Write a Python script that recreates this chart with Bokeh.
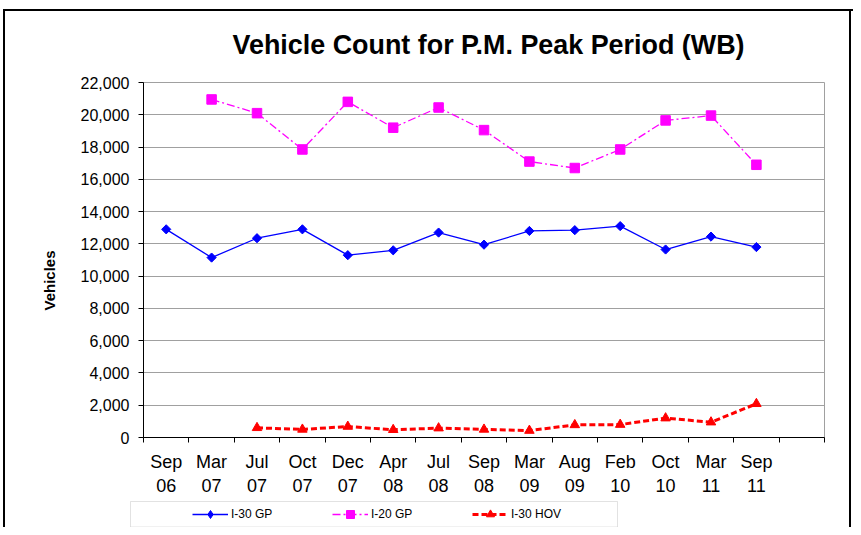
import math
import numpy as np
from bokeh.plotting import figure
from bokeh.layouts import column
from bokeh.models import (FixedTicker, NumeralTickFormatter, Legend, LegendItem,
                          Title, Range1d, BoxAnnotation)
from bokeh.embed import file_html
from bokeh.resources import INLINE

nan = float("nan")

# ---- data -------------------------------------------------------------
categories = ["Sep\n06", "Mar\n07", "Jul\n07", "Oct\n07", "Dec\n07", "Apr\n08", "Jul\n08",
              "Sep\n08", "Mar\n09", "Aug\n09", "Feb\n10", "Oct\n10", "Mar\n11", "Sep\n11"]
i30_gp = [12900, 11150, 12350, 12900, 11300, 11600, 12700, 11950, 12800, 12850, 13100, 11650, 12450, 11800]
i20_gp = [nan, 20950, 20100, 17850, 20800, 19200, 20450, 19050, 17100, 16700, 17850, 19650, 19950, 16900]
i30_hov = [nan, nan, 600, 500, 680, 480, 580, 500, 430, 780, 800, 1200, 950, 2090]
y_ticks = list(range(0, 22001, 2000))
series_names = ["I-30 GP", "I-20 GP", "I-30 HOV"]
title_text = "Vehicle Count for P.M. Peak Period (WB)"
y_title = "Vehicles"

n_slots = len(categories) + 1  # one empty slot at the right, as in the original
xs = np.arange(len(categories)) + 0.5

FONT = "Liberation Sans"
W = 853

styles_blue = dict(line_color="#0000ff", line_width=1.3)
styles_mag = dict(line_color="#ff00ff", line_width=1.3, line_dash="8 3 2 3")
styles_red = dict(line_color="#ff0000", line_width=3, line_dash="6 3")
mk_blue = dict(marker="square", angle=math.pi / 4, size=6.5, fill_color="#0000ff", line_color="#0000ff")
mk_blue_legend = dict(marker="diamond", size=10, fill_color="#0000ff", line_color="#0000ff")
mk_mag = dict(marker="square", size=9.5, fill_color="#ff00ff", line_color="#ff00ff")
mk_red = dict(marker="triangle", size=9.5, fill_color="#ff0000", line_color="#ff0000")

# ======================= main chart =======================================
p = figure(frame_width=681, frame_height=355,
           min_border_left=143, min_border_right=29, min_border_top=82, min_border_bottom=63,
           x_range=Range1d(0, n_slots), y_range=Range1d(0, y_ticks[-1]),
           output_backend="svg", toolbar_location=None, tools="")
p.frame_align = False
p.background_fill_color = None
p.border_fill_color = None
p.outline_line_color = "#a0a0a0"
p.outline_line_width = 1
# outer chart frame: left, top and right edges
p.styles = {
    "background-color": "white",
    "background-image": "linear-gradient(#000,#000), linear-gradient(#000,#000), linear-gradient(#000,#000)",
    "background-size": "2px 100%, 100% 2px, 2px 100%",
    "background-position": "3px 9px, 3px 9px, 849px 9px",
    "background-repeat": "no-repeat",
}

p.title = Title(text=title_text, align="left", offset=89, text_font=FONT,
                text_font_size="26.9px", text_font_style="bold", text_color="black",
                standoff=46)

xa = p.xaxis[0]
xa.ticker = FixedTicker(ticks=list(xs), minor_ticks=list(range(0, n_slots + 1)))
xa.major_label_overrides = {float(x): c for x, c in zip(xs, categories)}
xa.major_tick_out = 0
xa.major_tick_in = 0
xa.minor_tick_out = 5
xa.minor_tick_in = 0
xa.minor_tick_line_color = "black"
xa.axis_line_color = "black"
xa.major_label_text_font = FONT
xa.major_label_text_font_size = "18px"
xa.major_label_text_color = "black"
xa.major_label_standoff = 9

ya = p.yaxis[0]
ya.ticker = FixedTicker(ticks=y_ticks)
ya.formatter = NumeralTickFormatter(format="0,0")
ya.major_tick_out = 5
ya.major_tick_in = 0
ya.minor_tick_out = 0
ya.minor_tick_in = 0
ya.major_tick_line_color = "black"
ya.axis_line_color = "black"
ya.major_label_text_font = FONT
ya.major_label_text_font_size = "16px"
ya.major_label_text_color = "black"
ya.major_label_standoff = 9

p.add_layout(Title(text=y_title, align="left", offset=127, vertical_align="middle",
                   text_font=FONT, text_font_size="15px", text_font_style="bold",
                   text_color="black", standoff=38), "left")

p.xgrid.grid_line_color = None
p.ygrid.ticker = FixedTicker(ticks=y_ticks)
p.ygrid.grid_line_color = "#a0a0a0"
p.ygrid.grid_line_width = 1

p.line(xs, i30_gp, **styles_blue)
p.scatter(xs, i30_gp, **mk_blue)
p.line(xs, i20_gp, **styles_mag)
p.scatter(xs, i20_gp, **mk_mag)
p.line(xs, i30_hov, **styles_red)
p.scatter(xs, i30_hov, **mk_red)

# ======================= legend strip =====================================
q = figure(width=W, height=27, min_border=0, x_range=(0, 1), y_range=(0, 1),
           x_axis_location=None, y_axis_location=None,
           output_backend="svg", toolbar_location=None, tools="")
q.frame_align = False
q.grid.visible = False
q.outline_line_color = None
q.background_fill_color = None
q.border_fill_color = None
q.styles = {
    "background-color": "white",
    "background-image": "linear-gradient(#000,#000), linear-gradient(#000,#000)",
    "background-size": "2px 100%, 2px 100%",
    "background-position": "3px 0px, 849px 0px",
    "background-repeat": "no-repeat",
}
# legend proxies: the last point of each series, which falls outside this strip's ranges,
# so only the legend swatches (carrying each series' style) are seen
r1 = [q.line(xs[-1:], i30_gp[-1:], **styles_blue), q.scatter(xs[-1:], i30_gp[-1:], **mk_blue_legend)]
r2 = [q.line(xs[-1:], i20_gp[-1:], **styles_mag), q.scatter(xs[-1:], i20_gp[-1:], **mk_mag)]
r3 = [q.line(xs[-1:], i30_hov[-1:], **styles_red), q.scatter(xs[-1:], i30_hov[-1:], **mk_red)]

q.add_layout(BoxAnnotation(left=130, right=617, top=26, bottom=0.5,
                           left_units="screen", right_units="screen",
                           top_units="screen", bottom_units="screen",
                           fill_color="white", fill_alpha=1,
                           line_color="#a0a0a0", line_width=1))
legend = Legend(items=[LegendItem(label=series_names[0], renderers=r1),
                       LegendItem(label=series_names[1], renderers=r2),
                       LegendItem(label=series_names[2], renderers=r3)],
                orientation="horizontal", location=(192, 3), padding=0, margin=0,
                spacing=0, glyph_width=36, glyph_height=20, label_width=101,
                label_height=20, label_standoff=3, label_text_font=FONT,
                label_text_font_size="12px", label_text_color="black",
                border_line_color=None, background_fill_alpha=0)
q.add_layout(legend)

layout = column(p, q, spacing=0)
open("out.html", "w").write(file_html(layout, INLINE))
